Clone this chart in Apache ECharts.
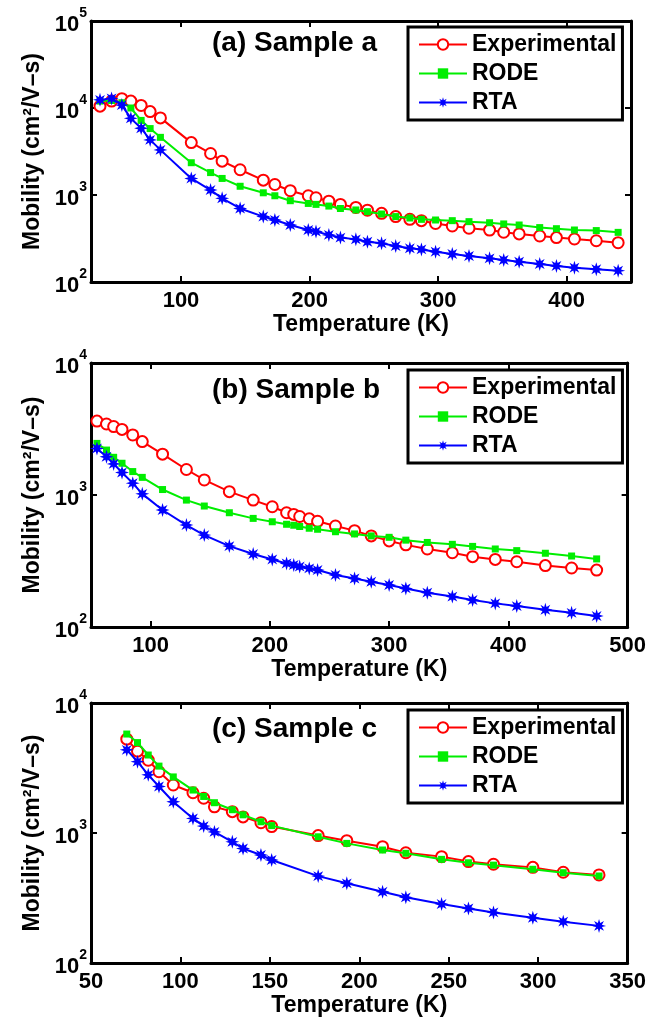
<!DOCTYPE html>
<html>
<head>
<meta charset="utf-8">
<script src="https://cdn.jsdelivr.net/npm/echarts@6/dist/echarts.min.js"></script>
<style>html,body{margin:0;padding:0;background:#fff;}#c{width:649px;height:1025px;}</style>
</head>
<body>
<div id="c"></div>
<script>
// ---- Panel (a) Sample a ----
var tA = [37, 46, 54, 61, 69, 76, 84, 108, 123, 132, 146, 164, 173, 185, 199, 205, 215, 224, 236, 245, 256, 267, 278, 287, 298, 311, 324, 340, 351, 363, 379, 392, 406, 423, 440];
var expA = [10500, 12000, 12800, 12000, 10700, 9100, 7700, 4000, 3000, 2450, 1950, 1480, 1320, 1120, 980, 930, 850, 780, 720, 670, 615, 565, 525, 507, 470, 440, 415, 395, 373, 357, 338, 324, 312, 298, 283];
var rodeA = [12000, 12200, 11500, 10000, 7200, 5800, 4600, 2350, 1810, 1550, 1260, 1060, 980, 860, 800, 780, 746, 700, 673, 643, 605, 565, 544, 525, 516, 507, 494, 480, 465, 452, 422, 410, 396, 390, 372];
var rtaA = [12400, 12900, 10800, 7600, 5850, 4300, 3300, 1550, 1140, 915, 700, 565, 516, 452, 396, 380, 348, 324, 309, 290, 278, 259, 244, 237, 223, 210, 199, 187, 179, 171, 161, 153, 146, 140, 135];

// ---- Panel (b) Sample b ----
var tB = [55, 63, 69, 76, 85, 93, 110, 130, 145, 166, 186, 202, 214, 220, 225, 233, 240, 255, 271, 285, 300, 314, 332, 353, 370, 389, 407, 431, 453, 474];
var expB = [3630, 3450, 3300, 3140, 2850, 2540, 2040, 1560, 1300, 1060, 915, 815, 734, 713, 687, 660, 632, 582, 537, 490, 449, 419, 390, 365, 341, 325, 312, 292, 280, 270];
var rodeB = [2460, 2190, 1930, 1740, 1505, 1360, 1100, 915, 825, 734, 665, 627, 600, 590, 577, 560, 550, 527, 507, 490, 478, 455, 437, 423, 408, 390, 379, 362, 345, 328];
var rtaB = [2250, 1950, 1720, 1480, 1230, 1020, 770, 592, 497, 410, 357, 325, 303, 295, 287, 278, 270, 248, 233, 220, 208, 196, 182, 170, 160, 151, 144, 135, 128, 121];

// ---- Panel (c) Sample c ----
var tC = [70, 76, 82, 88, 96, 107, 113, 119, 129, 135, 145, 151, 177, 193, 213, 226, 246, 261, 275, 297, 314, 334];
var expC = [5270, 4260, 3630, 2960, 2340, 2040, 1850, 1590, 1460, 1330, 1200, 1120, 955, 873, 785, 705, 658, 603, 575, 544, 499, 476];
var rodeC = [5770, 4960, 3980, 3270, 2700, 2140, 1910, 1710, 1510, 1380, 1220, 1140, 935, 832, 740, 698, 627, 590, 566, 526, 495, 467];
var rtaC = [4360, 3540, 2800, 2280, 1740, 1295, 1130, 1020, 855, 760, 677, 620, 466, 410, 353, 320, 284, 263, 245, 223, 208, 193];

// ---- axes / labels ----
var xTicksA = [100, 200, 300, 400];
var xTicksB = [100, 200, 300, 400, 500];
var xTicksC = [50, 100, 150, 200, 250, 300, 350];
var xRangeA = [30, 450], xRangeB = [50, 500], xRangeC = [50, 350];
var yRangeA = [100, 100000], yRangeB = [100, 10000], yRangeC = [100, 10000];
var titles = ['(a) Sample a', '(b) Sample b', '(c) Sample c'];
var seriesNames = ['Experimental', 'RODE', 'RTA'];
var xName = 'Temperature (K)';
var yName = 'Mobility (cm²/V–s)';

var FONT = "'Liberation Sans', Arial, Helvetica, sans-serif";
var colors = ['#ff0000', '#00ee00', '#0000ff'];
var starPath = 'path://M20 10 L14.16 11.72 L17.07 17.07 L11.72 14.16 L10 20 L8.28 14.16 L2.93 17.07 L5.84 11.72 L0 10 L5.84 8.28 L2.93 2.93 L8.28 5.84 L10 0 L11.72 5.84 L17.07 2.93 L14.16 8.28 Z';
var symbols = ['emptyCircle', 'rect', starPath];
var symSizes = [11, 7, 14];

var panels = [
  {t: tA, ys: [expA, rodeA, rtaA], xt: xTicksA, xr: xRangeA, yr: yRangeA, top: 21, h: 261, legTop: 27, titleTop: 29},
  {t: tB, ys: [expB, rodeB, rtaB], xt: xTicksB, xr: xRangeB, yr: yRangeB, top: 363, h: 264, legTop: 370, titleTop: 376},
  {t: tC, ys: [expC, rodeC, rtaC], xt: xTicksC, xr: xRangeC, yr: yRangeC, top: 703, h: 260, legTop: 710, titleTop: 715}
];

var grid = [], xAxis = [], yAxis = [], series = [], legend = [], title = [];
var lineBlack = {color: '#000', width: 3};
panels.forEach(function (p, k) {
  grid.push({left: 91, top: p.top, width: 540, height: p.h});
  var common = {type: 'value', gridIndex: k, min: p.xr[0], max: p.xr[1], splitLine: {show: false},
    axisLine: {show: true, onZero: false, lineStyle: lineBlack}};
  xAxis.push(Object.assign({}, common, {
    position: 'bottom',
    name: xName, nameLocation: 'middle', nameGap: 30,
    nameTextStyle: {fontFamily: FONT, fontSize: 23, fontWeight: 'bold', color: '#000'},
    axisTick: {inside: true, length: 6, lineStyle: {color: '#000', width: 2}, customValues: p.xt},
    axisLabel: {customValues: p.xt, margin: 8, fontFamily: FONT, fontSize: 22, fontWeight: 'bold', color: '#000'}
  }));
  xAxis.push(Object.assign({}, common, {
    position: 'top',
    axisTick: {inside: true, length: 6, lineStyle: {color: '#000', width: 2}, customValues: p.xt},
    axisLabel: {show: false}
  }));
  var ycommon = {type: 'log', logBase: 10, gridIndex: k, min: p.yr[0], max: p.yr[1], splitLine: {show: false},
    axisLine: {show: true, onZero: false, lineStyle: lineBlack},
    axisTick: {inside: true, length: 6, lineStyle: {color: '#000', width: 2}}, minorTick: {show: false}};
  yAxis.push(Object.assign({}, ycommon, {
    position: 'left',
    name: yName, nameLocation: 'middle', nameGap: 47,
    nameTextStyle: {fontFamily: FONT, fontSize: 23, fontWeight: 'bold', color: '#000'},
    axisLabel: {
      margin: 4,
      formatter: function (v) { return '{b|10}{s|' + Math.round(Math.log10(v)) + '}'; },
      rich: {
        b: {fontFamily: FONT, fontSize: 22, fontWeight: 'bold', color: '#000', lineHeight: 30, verticalAlign: 'bottom'},
        s: {fontFamily: FONT, fontSize: 14, fontWeight: 'bold', color: '#000', lineHeight: 14, verticalAlign: 'top'}
      }
    }
  }));
  yAxis.push(Object.assign({}, ycommon, {position: 'right', axisLabel: {show: false}}));

  for (var s = 0; s < 3; s++) {
    var data = p.t.map(function (tt, i) { return [tt, p.ys[s][i]]; });
    series.push({
      name: seriesNames[s], type: 'line', xAxisIndex: 2 * k, yAxisIndex: 2 * k,
      data: data, symbol: symbols[s], symbolSize: symSizes[s], showAllSymbol: true,
      lineStyle: {color: colors[s], width: 2},
      itemStyle: s === 0 ? {color: colors[s], borderColor: colors[s], borderWidth: 1.8} : {color: colors[s]},
      animation: false, z: 2 + s
    });
  }
  legend.push({
    left: 408, top: p.legTop, orient: 'vertical', data: seriesNames, selectedMode: false,
    borderColor: '#000', borderWidth: 3, backgroundColor: '#fff', padding: [6, 6, 6, 10],
    itemGap: 6, itemWidth: 48, itemHeight: 13,
    textStyle: {fontFamily: FONT, fontSize: 23, fontWeight: 'bold', color: '#000'}
  });
  title.push({text: titles[k], left: 207, top: p.titleTop - 5,
    textStyle: {fontFamily: FONT, fontSize: 28, fontWeight: 'bold', color: '#000'}});
});

var chart = echarts.init(document.getElementById('c'), null, {renderer: 'canvas'});
chart.setOption({animation: false, backgroundColor: '#fff', title: title, legend: legend, grid: grid, xAxis: xAxis, yAxis: yAxis, series: series});
</script>
</body>
</html>
